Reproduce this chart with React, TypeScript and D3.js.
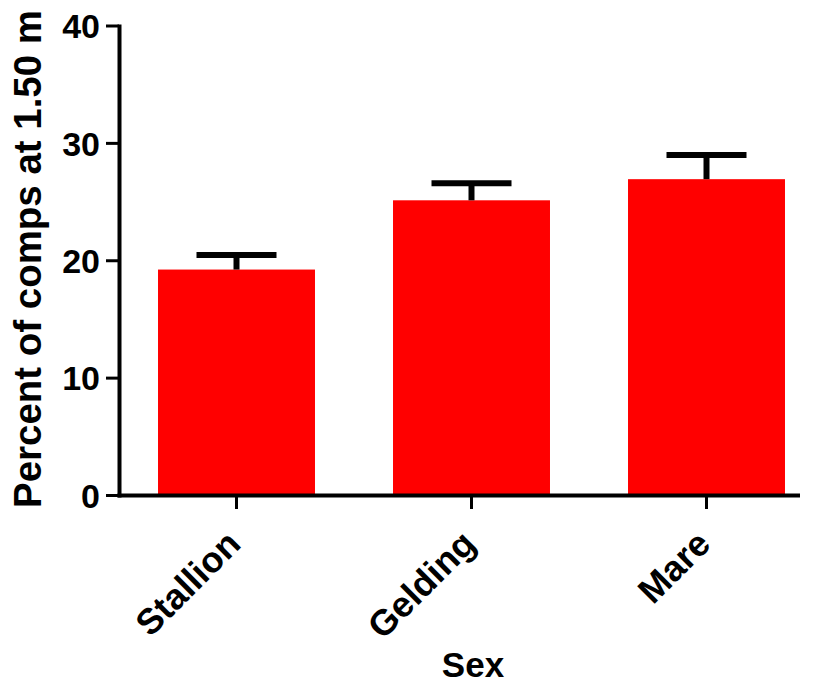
import React from "react";
import * as d3 from "d3";

const categories = ["Stallion", "Gelding", "Mare"];
const means = [19.25, 25.15, 26.95];
const errors = [1.25, 1.45, 2.05];
const yTicks = [0, 10, 20, 30, 40];
const yTitle = "Percent of comps at 1.50 m";
const xTitle = "Sex";

const W = 813;
const H = 685;
const FONT = "'Liberation Sans', Arial, Helvetica, sans-serif";

export default function App() {
  const x = d3
    .scaleBand<string>()
    .domain(categories)
    .range([119, 824])
    .paddingInner(0.332)
    .paddingOuter(0.166);
  const y = d3.scaleLinear().domain([0, 40]).range([495.5, 26]);

  return (
    <svg
      width={W}
      height={H}
      style={{ position: "absolute", left: 0, top: 0, background: "#fff" }}
      fontFamily={FONT}
    >
      {/* bars */}
      {categories.map((c, i) => (
        <rect
          key={c}
          x={x(c)}
          y={y(means[i])}
          width={x.bandwidth()}
          height={y(0) - y(means[i])}
          fill="#ff0000"
        />
      ))}
      {/* error bars */}
      {categories.map((c, i) => {
        const cx = (x(c) as number) + x.bandwidth() / 2;
        const top = y(means[i] + errors[i]);
        return (
          <g key={c + "-err"} stroke="#000" strokeWidth={6}>
            <line x1={cx} x2={cx} y1={y(means[i])} y2={top} />
            <line x1={cx - 40} x2={cx + 40} y1={top} y2={top} />
          </g>
        );
      })}
      {/* y axis */}
      <line x1={119.5} x2={119.5} y1={24.5} y2={497.5} stroke="#000" strokeWidth={4} />
      {yTicks.map((t) => (
        <g key={t}>
          <line x1={106} x2={119} y1={y(t)} y2={y(t)} stroke="#000" strokeWidth={3} />
          <text
            x={100}
            y={y(t)}
            dy="0.36em"
            textAnchor="end"
            fontSize={34}
            fontWeight="bold"
          >
            {t}
          </text>
        </g>
      ))}
      {/* x axis */}
      <line x1={117.5} x2={800} y1={495.5} y2={495.5} stroke="#000" strokeWidth={4} />
      {categories.map((c) => {
        const cx = (x(c) as number) + x.bandwidth() / 2;
        return (
          <g key={c + "-tick"}>
            <line x1={cx} x2={cx} y1={495} y2={509} stroke="#000" strokeWidth={3} />
            <text
              transform={`translate(${cx + 6},${546}) rotate(-45)`}
              textAnchor="end"
              fontSize={36}
              fontWeight="bold"
            >
              {c}
            </text>
          </g>
        );
      })}
      {/* titles */}
      <text
        transform={`translate(41,${259}) rotate(-90)`}
        textAnchor="middle"
        fontSize={38}
        fontWeight="bold"
        textLength={498}
        lengthAdjust="spacingAndGlyphs"
      >
        {yTitle}
      </text>
      <text x={473} y={677} textAnchor="middle" fontSize={35} fontWeight="bold">
        {xTitle}
      </text>
    </svg>
  );
}
